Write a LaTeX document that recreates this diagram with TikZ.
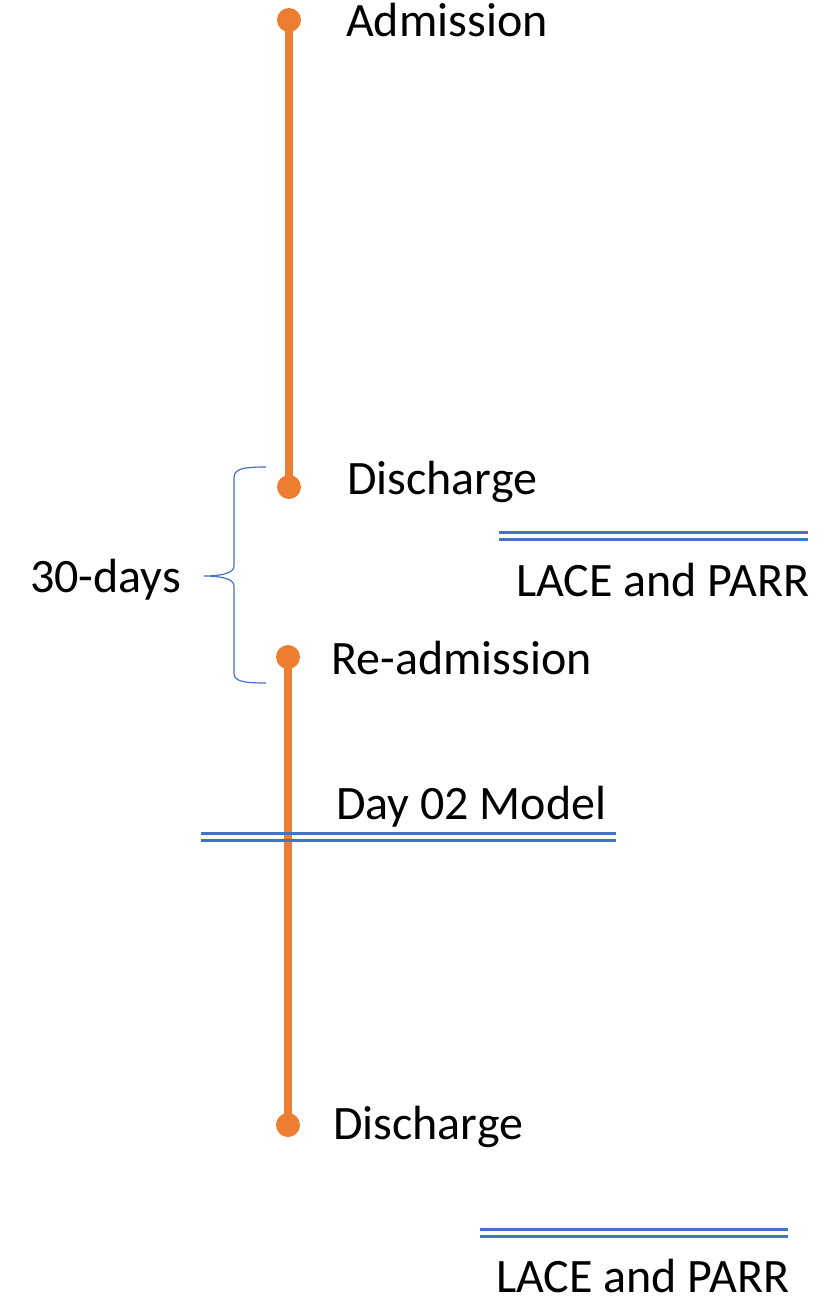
\documentclass[tikz,border=0pt]{standalone}
\usepackage{fontspec}
\setmainfont{Carlito}
\usetikzlibrary{positioning}
\definecolor{lineorange}{RGB}{237,125,49}
\definecolor{lineblue}{RGB}{68,114,196}
\tikzstyle{evento} = [circle, fill=lineorange, minimum size=24pt, inner sep=0pt]
\tikzstyle{estancia} = [draw=lineorange, line width=8pt]
\tikzstyle{etiqueta} = [anchor=base west, inner sep=0pt, font=\fontsize{48}{56}\selectfont]
\tikzstyle{modelo} = [draw=lineblue, line width=3pt]
\tikzstyle{llave} = [draw=lineblue, line width=1.2pt]
\begin{document}
\begin{tikzpicture}[x=1pt,y=-1pt]
\useasboundingbox (0,0) rectangle (823,1298);
% primera estancia
\node [evento] (adm) at (289,20) {};
\node [evento] (dis1) at (289,487) {};
\draw [estancia] (adm.center) -- (dis1.center);
\node [evento] (readm) at (288,657) {};
\node [evento] (dis2) at (288,1125) {};
\draw [estancia] (readm.center) -- (dis2.center);
% textos
\node [etiqueta] (tadm) at (346,37) {Admission};
\node [etiqueta] (tdis1) at (347,494) {Discharge};
\node [etiqueta] (treadm) at (331,674) {Re-admission};
\node [etiqueta] (tdis2) at (333,1139) {Discharge};
\node [etiqueta] (tdias) at (30,592) {30-days};
% modelos
\coordinate (m1a) at (499,532);
\coordinate (m1b) at (808,532);
\draw [modelo] (m1a) -- (m1b);
\draw [modelo] ([yshift=-7pt]m1a) -- ([yshift=-7pt]m1b);
\node [etiqueta] (tm1) at (516,596) {LACE and PARR};
\coordinate (m2a) at (201,833);
\coordinate (m2b) at (616,833);
\draw [modelo] (m2a) -- (m2b);
\draw [modelo] ([yshift=-7pt]m2a) -- ([yshift=-7pt]m2b);
\node [etiqueta] (tm2) at (336,819) {Day 02 Model};
\coordinate (m3a) at (480,1229);
\coordinate (m3b) at (788,1229);
\draw [modelo] (m3a) -- (m3b);
\draw [modelo] ([yshift=-7pt]m3a) -- ([yshift=-7pt]m3b);
\node [etiqueta] (tm3) at (496,1292) {LACE and PARR};
% llave de 30 dias
\draw [llave] (266,467) .. controls (242,467) and (234,469) .. (234,478) -- (234,566)
  .. controls (234,573) and (222,576) .. (204,576)
  .. controls (222,576) and (234,579) .. (234,586) -- (234,673)
  .. controls (234,681) and (242,683) .. (266,683);
\end{tikzpicture}
\end{document}
